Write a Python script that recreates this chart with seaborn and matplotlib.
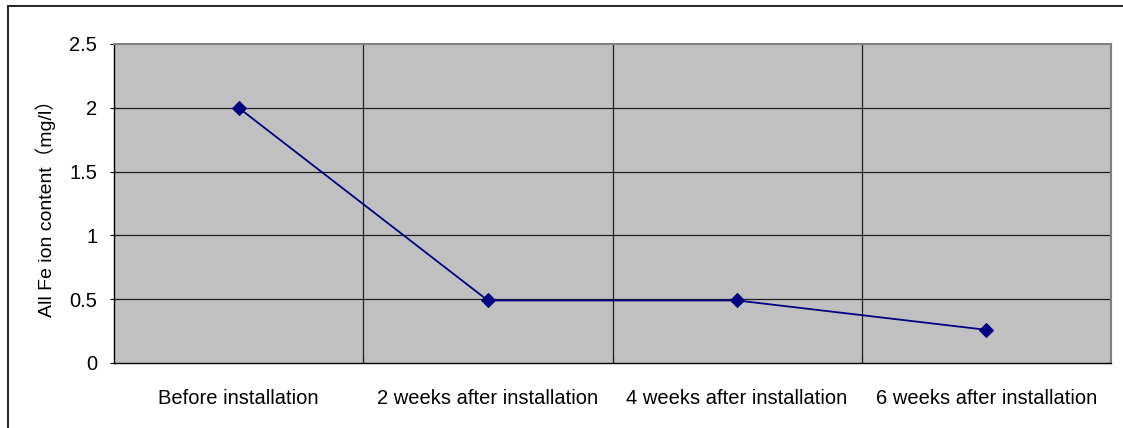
import matplotlib
matplotlib.use("Agg")
import matplotlib.pyplot as plt
import seaborn as sns
import pandas as pd
from matplotlib.lines import Line2D

# Data
stages = ["Before installation", "2 weeks after installation",
          "4 weeks after installation", "6 weeks after installation"]
fe_content = [2.0, 0.49, 0.49, 0.26]
y_ticks = [0, 0.5, 1, 1.5, 2, 2.5]

df = pd.DataFrame({"stage": stages, "fe": fe_content})

sns.set_style("white")
plt.rcParams["font.family"] = ["Liberation Sans", "Noto Sans CJK SC", "DejaVu Sans"]

fig = plt.figure(figsize=(11.23, 4.28), dpi=100)
ax = fig.add_axes([114 / 1123, 1 - 363 / 428, (1111 - 114) / 1123, (363 - 44) / 428])
ax.set_facecolor("#C0C0C0")

sns.lineplot(data=df, x="stage", y="fe", ax=ax, color="#000080", marker="D",
             markersize=7.5, markeredgecolor="#000080", linewidth=1.3, sort=False)

ax.set_xlim(-0.5, len(stages) - 0.5)
ax.set_ylim(0, 2.5)
ax.set_yticks(y_ticks)
ax.set_yticklabels([f"{t:g}" for t in y_ticks])
ax.set_xticks(range(len(stages)))
ax.set_xticklabels(stages)
ax.set_xticks([i + 0.5 for i in range(len(stages) - 1)], minor=True)

for y in y_ticks[1:-1]:
    ax.axhline(y, color="#202020", lw=0.9, zorder=1)
for i in range(len(stages) - 1):
    ax.axvline(i + 0.5, color="#202020", lw=0.9, zorder=1)

ax.tick_params(axis="y", which="major", direction="out", length=3, width=0.8,
               labelsize=14.5, pad=9, left=True, color="black", labelcolor="black")
ax.tick_params(axis="x", which="major", length=0, labelsize=14.5, pad=19,
               labelcolor="black")
ax.tick_params(axis="x", which="minor", direction="in", length=4, width=0.8,
               bottom=True, color="black")

ax.set_xlabel("")
ax.set_ylabel("All Fe ion content（mg/l）", fontsize=14, labelpad=10, color="black")

for side in ["top", "right"]:
    ax.spines[side].set_color("#808080")
    ax.spines[side].set_linewidth(1.5)
for side in ["left", "bottom"]:
    ax.spines[side].set_color("black")
    ax.spines[side].set_linewidth(1.0)

# outer chart border (top and left visible)
fig.add_artist(Line2D([8 / 1123, 1], [1 - 6 / 428, 1 - 6 / 428], color="black", lw=1.2,
                      transform=fig.transFigure))
fig.add_artist(Line2D([8 / 1123, 8 / 1123], [0, 1 - 6 / 428], color="black", lw=1.2,
                      transform=fig.transFigure))

fig.savefig("out.png", dpi=100)
